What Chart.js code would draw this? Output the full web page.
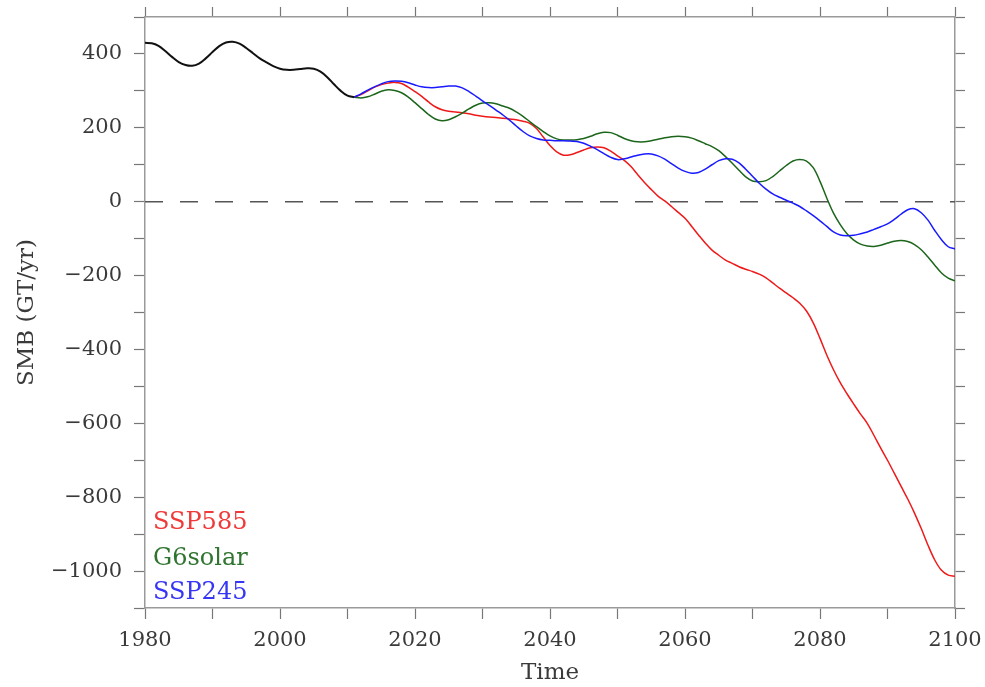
<!DOCTYPE html>
<html>
<head>
<meta charset="utf-8">
<script src="https://cdn.jsdelivr.net/npm/chart.js@4"></script>
<style>
    body { margin: 0; background: #fff; }
    canvas { display: block; }
</style>
</head>
<body>
<canvas id="myChart" width="985" height="687"></canvas>
<script>
// anos e SMB historico (comum aos tres cenarios)
var anos_hist = [1980, 1981, 1982, 1983, 1984, 1985, 1986, 1987, 1988, 1989,
    1990, 1991, 1992, 1993, 1994, 1995, 1996, 1997, 1998, 1999,
    2000, 2001, 2002, 2003, 2004, 2005, 2006, 2007, 2008, 2009, 2010, 2011];
var smb_hist = [430, 429, 422, 408, 392, 378, 370, 368, 374, 388,
    405, 421, 431, 433, 428, 416, 402, 388, 377, 367,
    360, 357, 357, 359, 361, 360, 352, 337, 318, 300, 287, 283];

var anos_cenario = [];
for (var a = 2011; a <= 2100; a++) anos_cenario.push(a);

var ssp585 = [283, 290, 300, 310, 317, 321, 323, 320, 310, 298,
    285, 270, 257, 249, 245, 243, 241, 238, 234, 231,
    229, 228, 226, 224, 222, 218, 212, 198, 175, 152,
    135, 126, 127, 133, 140, 146, 148, 146, 137, 124,
    112, 95, 73, 52, 33, 15, 2, -13, -29, -45,
    -67, -90, -112, -131, -145, -158, -167, -176, -183, -189,
    -196, -206, -220, -234, -247, -260, -275, -296, -328, -370,
    -415, -455, -490, -520, -548, -575, -600, -633, -667, -700,
    -735, -770, -805, -843, -885, -930, -970, -998, -1011, -1014];

var g6solar = [283, 281, 284, 291, 299, 303, 301, 295, 283, 268,
    252, 236, 224, 219, 222, 230, 240, 251, 261, 267,
    268, 265, 259, 253, 243, 231, 217, 203, 190, 178,
    170, 167, 167, 168, 171, 177, 184, 188, 187, 180,
    171, 165, 162, 162, 165, 169, 173, 176, 177, 176,
    172, 165, 157, 149, 138, 122, 104, 85, 67, 56,
    54, 57, 68, 83, 98, 110, 114, 110, 92, 55,
    10, -31, -62, -87, -104, -115, -120, -121, -118, -112,
    -107, -105, -108, -116, -130, -150, -172, -193, -207, -214];

var ssp245 = [283, 292, 302, 311, 319, 325, 327, 326, 322, 316,
    311, 309, 309, 311, 313, 313, 308, 298, 286, 273,
    261, 248, 235, 221, 205, 190, 178, 171, 167, 166,
    165, 165, 164, 163, 158, 150, 141, 130, 120, 114,
    116, 121, 126, 129, 129, 124, 115, 103, 91, 82,
    77, 79, 88, 100, 111, 116, 115, 105, 88, 69,
    50, 34, 21, 12, 4, -4, -13, -25, -38, -52,
    -67, -82, -90, -92, -91, -87, -82, -75, -68, -60,
    -48, -34, -22, -19, -30, -50, -78, -103, -122, -128];

var rotulos_x = [1980, 2000, 2020, 2040, 2060, 2080, 2100];
var rotulos_y = [400, 200, 0, -200, -400, -600, -800, -1000];

function pontos(xs, ys) {
    var lista = [];
    for (var i = 0; i < xs.length; i++) {
        lista.push({ x: xs[i], y: ys[i] });
    }
    return lista;
}

var fonte = "'DejaVu Serif', 'Liberation Serif', serif";

// legenda escrita dentro do grafico, canto inferior esquerdo
var legenda_texto = {
    id: 'legenda_texto',
    afterDatasetsDraw: function (chart) {
        var ctx = chart.ctx;
        var itens = [
            { texto: 'SSP585', cor: '#ee3a3a', y: 523 },
            { texto: 'G6solar', cor: '#2f742f', y: 559 },
            { texto: 'SSP245', cor: '#3636f4', y: 593 }
        ];
        ctx.save();
        ctx.font = '24px ' + fonte;
        ctx.textBaseline = 'middle';
        ctx.textAlign = 'left';
        for (var i = 0; i < itens.length; i++) {
            ctx.fillStyle = itens[i].cor;
            ctx.fillText(itens[i].texto, chart.chartArea.left + 8, itens[i].y);
        }
        ctx.restore();
    }
};

// tamanho fixo do eixo, sem folga extra dos rotulos
function fixa(scale, w, h) {
    if (w !== null) scale.width = w;
    if (h !== null) scale.height = h;
    scale.paddingLeft = 0;
    scale.paddingRight = 0;
    scale.paddingTop = 0;
    scale.paddingBottom = 0;
}

function eixo_x(posicao, altura, comRotulo) {
    return {
        type: 'linear',
        position: posicao,
        min: 1980,
        max: 2100,
        afterFit: function (scale) { fixa(scale, null, altura); },
        border: { display: true, color: '#9a9a9a', width: 1.5 },
        grid: { drawOnChartArea: false, drawTicks: true, tickLength: comRotulo ? 11 : 10, tickColor: '#777', tickWidth: 1.2 },
        ticks: {
            stepSize: 10,
            maxRotation: 0,
            autoSkip: false,
            padding: 9,
            color: '#3a3a3a',
            font: { family: fonte, size: 21 },
            callback: function (v) {
                if (!comRotulo) return '';
                return rotulos_x.indexOf(v) >= 0 ? String(v) : '';
            }
        },
        title: {
            display: comRotulo,
            text: 'Time',
            color: '#3a3a3a',
            font: { family: fonte, size: 23 },
            padding: { top: 0, bottom: 0 }
        }
    };
}

function eixo_y(posicao, largura, comRotulo) {
    return {
        type: 'linear',
        position: posicao,
        min: -1100,
        max: 500,
        afterFit: function (scale) { fixa(scale, largura, null); },
        border: { display: true, color: '#9a9a9a', width: 1.5 },
        grid: { drawOnChartArea: false, drawTicks: true, tickLength: comRotulo ? 11 : 10, tickColor: '#777', tickWidth: 1.2 },
        ticks: {
            stepSize: 100,
            autoSkip: false,
            padding: 12,
            color: '#3a3a3a',
            font: { family: fonte, size: 21 },
            callback: function (v) {
                if (!comRotulo) return '';
                if (rotulos_y.indexOf(v) < 0) return '';
                return v < 0 ? '\u2212' + Math.abs(v) : String(v);
            }
        },
        title: {
            display: comRotulo,
            text: 'SMB (GT/yr)',
            color: '#3a3a3a',
            font: { family: fonte, size: 23 },
            padding: { top: 13, bottom: 0 }
        }
    };
}

const ctx = document.getElementById('myChart');
new Chart(ctx, {
    type: 'line',
    data: {
        datasets: [
            {
                label: 'hist',
                data: pontos(anos_hist, smb_hist),
                borderColor: '#111111',
                borderWidth: 2,
                order: 0
            },
            {
                label: 'SSP245',
                data: pontos(anos_cenario, ssp245),
                borderColor: '#1a1aff',
                borderWidth: 1.5,
                order: 1
            },
            {
                label: 'G6solar',
                data: pontos(anos_cenario, g6solar),
                borderColor: '#1c661c',
                borderWidth: 1.5,
                order: 2
            },
            {
                label: 'SSP585',
                data: pontos(anos_cenario, ssp585),
                borderColor: '#ee1a1a',
                borderWidth: 1.5,
                order: 3
            },
            {
                label: 'zero',
                data: pontos([1980, 2100], [0, 0]),
                borderColor: '#555555',
                borderWidth: 1.5,
                borderDash: [18, 17],
                tension: 0,
                order: 4
            }
        ]
    },
    options: {
        responsive: false,
        animation: false,
        devicePixelRatio: 1,
        layout: { padding: 0 },
        elements: {
            point: { radius: 0 },
            line: { tension: 0.35, fill: false }
        },
        plugins: {
            legend: { display: false },
            tooltip: { enabled: false }
        },
        scales: {
            x: eixo_x('bottom', 79, true),
            x2: eixo_x('top', 17, false),
            y: eixo_y('left', 145, true),
            y2: eixo_y('right', 30, false)
        }
    },
    plugins: [legenda_texto]
});
</script>
</body>
</html>
